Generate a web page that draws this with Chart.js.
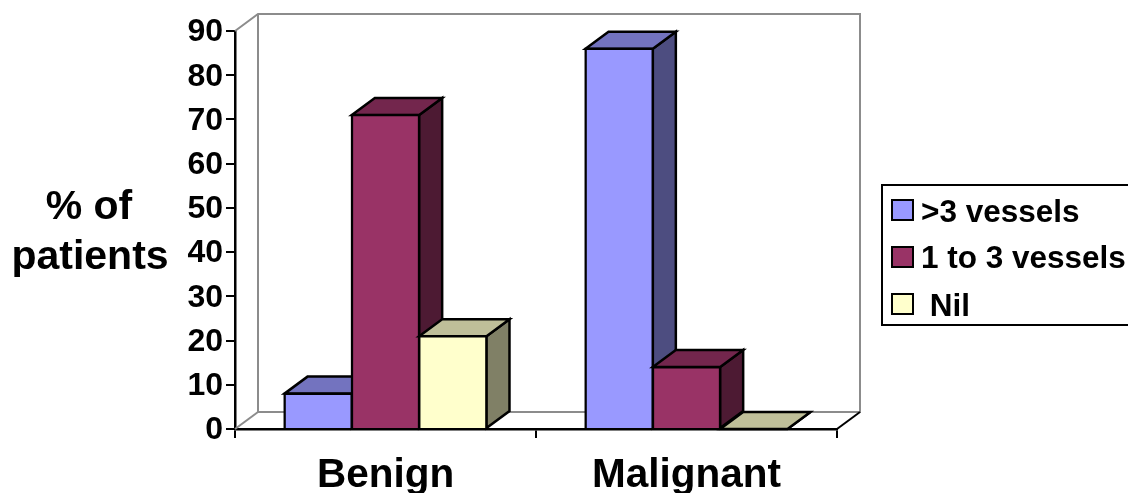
<!DOCTYPE html>
<html>
<head>
<meta charset="utf-8">
<title>% of patients</title>
<script src="https://cdn.jsdelivr.net/npm/chart.js@4"></script>
<style>
  html, body { margin: 0; padding: 0; background: #fff; overflow: hidden; }
  canvas { display: block; }
</style>
</head>
<body>
<canvas id="chart" width="1128" height="493"></canvas>
<script>
// data
var categories = ['Benign', 'Malignant'];
var seriesNames = ['>3 vessels', '1 to 3 vessels', ' Nil'];
var moreThan3 = [8, 86];
var oneTo3 = [71, 14];
var nil = [21, 0];
var yTitle = ['% of', 'patients'];

// front, top and side colour of each series
var frontColors = ['#9999FF', '#993366', '#FFFFCC'];
var topColors = ['#7373BF', '#73264D', '#BFBF99'];
var sideColors = ['#4D4D80', '#4D1A33', '#808066'];

var FONT = '"Liberation Sans", Arial, sans-serif';
var DEPTH_X = 23;
var DEPTH_Y = 17;

function poly(ctx, pts, fill, stroke, width) {
  ctx.beginPath();
  ctx.moveTo(pts[0][0], pts[0][1]);
  for (var i = 1; i < pts.length; i++) ctx.lineTo(pts[i][0], pts[i][1]);
  if (fill) {
    ctx.closePath();
    ctx.fillStyle = fill;
    ctx.fill();
  }
  ctx.strokeStyle = stroke;
  ctx.lineWidth = width;
  ctx.lineJoin = 'miter';
  ctx.stroke();
}

// back wall and floor, behind everything
var wallPlugin = {
  id: 'wall',
  beforeDatasetsDraw: function(chart) {
    var a = chart.chartArea, ctx = chart.ctx;
    var gray = '#8C8C8C';
    var l = a.left, r = a.right, t = a.top, b = a.bottom;
    ctx.save();
    poly(ctx, [[l, t], [l + DEPTH_X, t - DEPTH_Y], [r + DEPTH_X, t - DEPTH_Y], [r + DEPTH_X, b - DEPTH_Y], [l + DEPTH_X, b - DEPTH_Y], [l + DEPTH_X, t - DEPTH_Y]], null, gray, 2);
    poly(ctx, [[l, b], [l + DEPTH_X, b - DEPTH_Y]], null, gray, 2);
    poly(ctx, [[r, b], [r + DEPTH_X, b - DEPTH_Y]], null, '#000', 2);
    ctx.restore();
  }
};

// chart.js paints the last dataset first, the 3d look needs left to right
// so the normal pass is skipped and every bar is painted here: side, top, front
var bar3dPlugin = {
  id: 'bar3d',
  beforeDatasetDraw: function() { return false; },
  afterDatasetsDraw: function(chart) {
    var ctx = chart.ctx;
    ctx.save();
    chart.data.datasets.forEach(function(ds, i) {
      chart.getDatasetMeta(i).data.forEach(function(bar) {
        var p = bar.getProps(['x', 'y', 'base', 'width'], true);
        var x0 = p.x - p.width / 2, x1 = p.x + p.width / 2;
        poly(ctx, [[x1, p.y], [x1 + DEPTH_X, p.y - DEPTH_Y], [x1 + DEPTH_X, p.base - DEPTH_Y], [x1, p.base]], sideColors[i], '#000', 2.5);
        poly(ctx, [[x0, p.y], [x0 + DEPTH_X, p.y - DEPTH_Y], [x1 + DEPTH_X, p.y - DEPTH_Y], [x1, p.y]], topColors[i], '#000', 2.5);
        bar.draw(ctx, chart.chartArea);
      });
    });
    ctx.restore();
  }
};

// y title and the boxed legend that runs off the right edge
var textPlugin = {
  id: 'extras',
  afterDraw: function(chart) {
    var ctx = chart.ctx;
    ctx.save();
    ctx.fillStyle = '#000';
    ctx.textBaseline = 'middle';
    ctx.textAlign = 'center';
    ctx.font = 'bold 41px ' + FONT;
    ctx.fillText(yTitle[0], 89, 208);
    ctx.fillText(yTitle[1], 90, 258);

    ctx.strokeStyle = '#000';
    ctx.lineWidth = 2;
    ctx.strokeRect(882, 185, 260, 140);
    var rowY = [210, 257, 304];
    ctx.textAlign = 'left';
    ctx.font = 'bold 31.5px ' + FONT;
    seriesNames.forEach(function(name, i) {
      ctx.fillStyle = frontColors[i];
      ctx.fillRect(892, rowY[i] - 10, 21, 20);
      ctx.strokeRect(892, rowY[i] - 10, 21, 20);
      ctx.fillStyle = '#000';
      ctx.fillText(name, 921, rowY[i] + (i === 1 ? 2 : 3));
    });
    ctx.restore();
  }
};

new Chart(document.getElementById('chart'), {
  type: 'bar',
  data: {
    labels: categories,
    datasets: [moreThan3, oneTo3, nil].map(function(values, i) {
      return {
        label: seriesNames[i],
        data: values,
        backgroundColor: frontColors[i],
        borderColor: '#000',
        borderWidth: 2.5,
        inflateAmount: 1.2,
        categoryPercentage: 0.671,
        barPercentage: 1
      };
    })
  },
  options: {
    responsive: false,
    animation: false,
    layout: { padding: { top: 31, right: 291, left: 0, bottom: 0 } },
    plugins: { legend: { display: false }, tooltip: { enabled: false }, title: { display: false } },
    scales: {
      x: {
        afterFit: function(scale) { scale.height = 64; },
        grid: { drawOnChartArea: false, drawTicks: true, tickLength: 9, tickColor: '#000', lineWidth: 2 },
        border: { color: '#000', width: 2.5 },
        ticks: { color: '#000', padding: 14, maxRotation: 0, font: { family: FONT, size: 40.5, weight: 'bold' } }
      },
      y: {
        min: 0,
        max: 90,
        afterFit: function(scale) { scale.width = 235; },
        grid: { drawOnChartArea: false, drawTicks: true, tickLength: 9, tickColor: '#000', lineWidth: 2 },
        border: { color: '#000', width: 2.5 },
        ticks: { stepSize: 10, color: '#000', padding: 3, labelOffset: 1.5, font: { family: FONT, size: 32, weight: 'bold' } }
      }
    }
  },
  plugins: [wallPlugin, bar3dPlugin, textPlugin]
});
</script>
</body>
</html>
